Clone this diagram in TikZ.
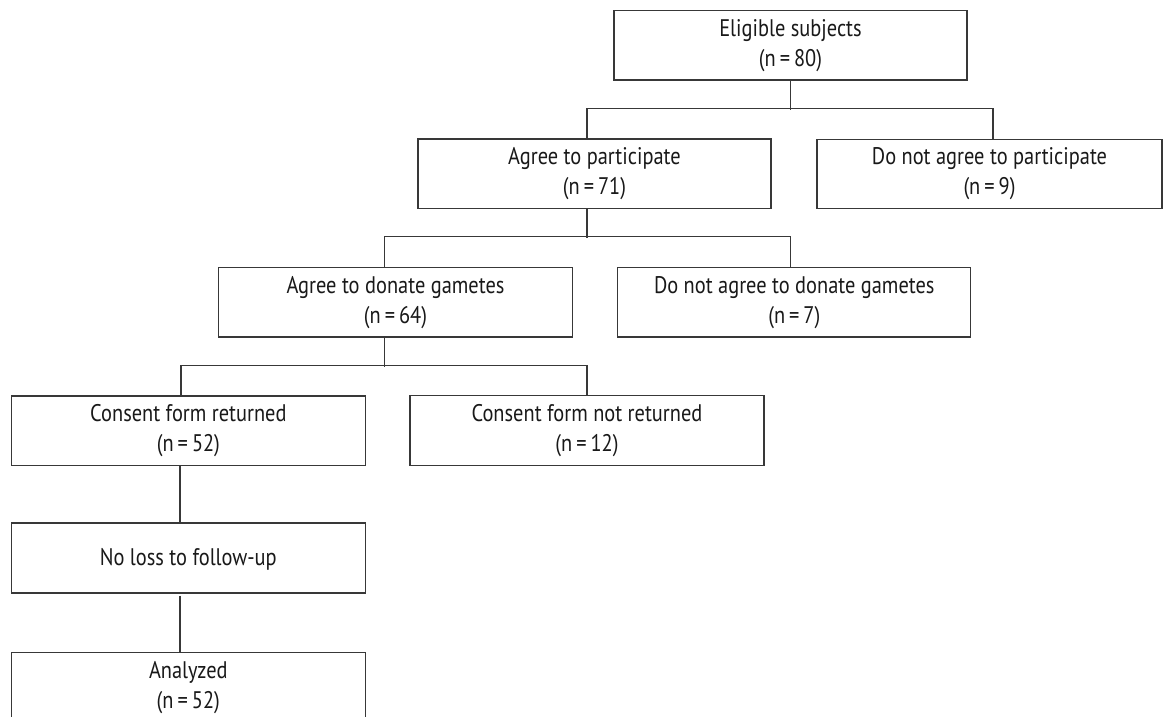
\documentclass[tikz,border=0pt]{standalone}
\usepackage{fontspec}
\setmainfont{PT Sans}[FakeStretch=0.85]
\usetikzlibrary{calc}
\tikzset{
  boxnode/.style={draw=black!78, line width=1.3pt, rectangle, inner sep=0pt,
    minimum width=354pt, minimum height=69.5pt, align=center, text=black!90,
    font=\fontsize{24}{30}\selectfont},
  conn/.style={draw=black!78, line width=1.3pt}
}
\begin{document}
\begin{tikzpicture}[x=1pt,y=-1pt]
\useasboundingbox (0,0) rectangle (1163,717);
\clip (0,0) rectangle (1163,717);
\fill[white] (0,0) rectangle (1163,717);
\node[boxnode, minimum width=353pt] (elig) at (790.5,45.3) {Eligible subjects\\(n\,=\,80)};
\node[boxnode, minimum width=353pt] (agree) at (594.5,173.7) {Agree to participate\\(n\,=\,71)};
\node[boxnode, minimum width=345pt] (notagree) at (989.5,174) {Do not agree to participate\\(n\,=\,9)};
\node[boxnode] (donate) at (395.5,302.3) {Agree to donate gametes\\(n\,=\,64)};
\node[boxnode, minimum width=353pt] (notdonate) at (794.3,302.2) {Do not agree to donate gametes\\(n\,=\,7)};
\node[boxnode] (returned) at (188.4,430.6) {Consent form returned\\(n\,=\,52)};
\node[boxnode] (notreturned) at (587,430.5) {Consent form not returned\\(n\,=\,12)};
\node[boxnode, minimum height=70pt, text depth=2pt] (noloss) at (188.3,558) {No loss to follow-up};
\node[boxnode, minimum height=70pt] (analyzed) at (188.3,687.7) {Analyzed\\(n\,=\,52)};
% connectors
\draw[conn] (elig.south) -- ++(0,29);
\draw[conn] ($(agree.north)+(-7.5,0)$) -- ++(0,-30) -| ($(notagree.north)+(3.5,0)$);
\draw[conn] ($(agree.south)+(-7.5,0)$) -- ++(0,28.5);
\draw[conn] ($(donate.north)+(-11,0)$) -- ++(0,-30.7) -| ($(notdonate.north)+(-4,0)$);
\draw[conn] ($(donate.south)+(-11,0)$) -- ++(0,29);
\draw[conn] ($(returned.north)+(-7.4,0)$) -- ++(0,-30) -| (notreturned.north);
\draw[conn] ($(returned.south)+(-8.4,0)$) -- ($(noloss.north)+(-8.3,0)$);
\draw[conn] ($(noloss.south)+(-8.3,2)$) -- ($(analyzed.north)+(-8.3,0)$);
\end{tikzpicture}
\end{document}
